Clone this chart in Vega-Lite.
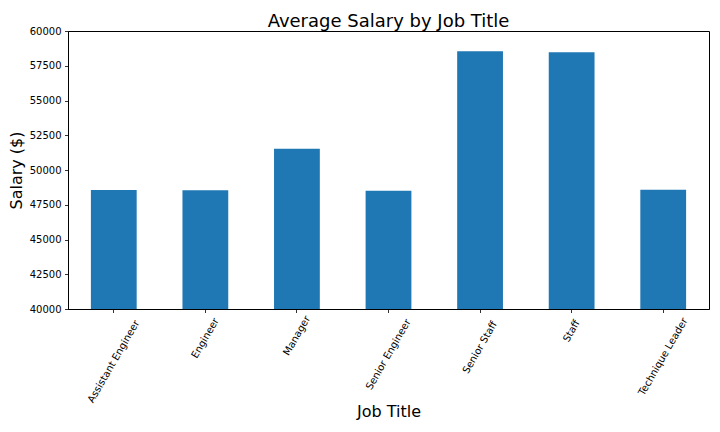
{
  "$schema": "https://vega.github.io/schema/vega-lite/v6.json",
  "width": 641,
  "height": 278,
  "autosize": "none",
  "padding": {"left": 68, "top": 31, "right": 11, "bottom": 123},
  "background": "white",
  "title": {
    "text": "Average Salary by Job Title",
    "font": "DejaVu Sans",
    "fontSize": 18,
    "fontWeight": "normal",
    "color": "black",
    "anchor": "middle",
    "frame": "group",
    "baseline": "alphabetic",
    "offset": 6,
    "dy": 25
  },
  "config": {
    "view": {"stroke": "black", "strokeWidth": 1},
    "axis": {
      "labelFont": "DejaVu Sans",
      "labelFontSize": 10,
      "labelColor": "black",
      "titleFont": "DejaVu Sans",
      "titleFontSize": 16,
      "titleFontWeight": "normal",
      "titleColor": "black",
      "tickColor": "black",
      "tickSize": 3.5,
      "tickWidth": 0.8,
      "domainColor": "black",
      "domainWidth": 0.8,
      "labelPadding": 3.5,
      "grid": false
    }
  },
  "data": {
    "values": [
      {"title": "Assistant Engineer", "salary": 48564.43},
      {"title": "Engineer", "salary": 48535.34},
      {"title": "Manager", "salary": 51531.04},
      {"title": "Senior Engineer", "salary": 48506.8},
      {"title": "Senior Staff", "salary": 58550.17},
      {"title": "Staff", "salary": 58465.38},
      {"title": "Technique Leader", "salary": 48582.9}
    ]
  },
  "mark": {"type": "bar", "color": "#1f77b4", "clip": true},
  "encoding": {
    "x": {
      "field": "title",
      "type": "nominal",
      "sort": null,
      "scale": {"paddingInner": 0.5, "paddingOuter": 0.25},
      "axis": {
        "title": "Job Title",
        "labelAngle": -60,
        "labelAlign": "center",
        "labelBaseline": "middle",
        "labelLimit": 300,
        "titleY": 107,
        "titleBaseline": "alphabetic",
        "encoding": {
          "labels": {
            "dx": {"value": {"expr": "-0.433*(4.68*length(datum.value)+5.8)"}},
            "dy": {"value": {"expr": "0.25*(4.68*length(datum.value)+5.8)"}}
          }
        }
      }
    },
    "y": {
      "field": "salary",
      "type": "quantitative",
      "scale": {"domain": [40000, 60000], "nice": false, "zero": false},
      "axis": {
        "title": "Salary ($)",
        "values": [40000, 42500, 45000, 47500, 50000, 52500, 55000, 57500, 60000],
        "format": "d",
        "titleX": -47,
        "titleY": 139,
        "titleAlign": "center",
        "titleBaseline": "alphabetic",
        "titleAngle": -90
      }
    }
  }
}
